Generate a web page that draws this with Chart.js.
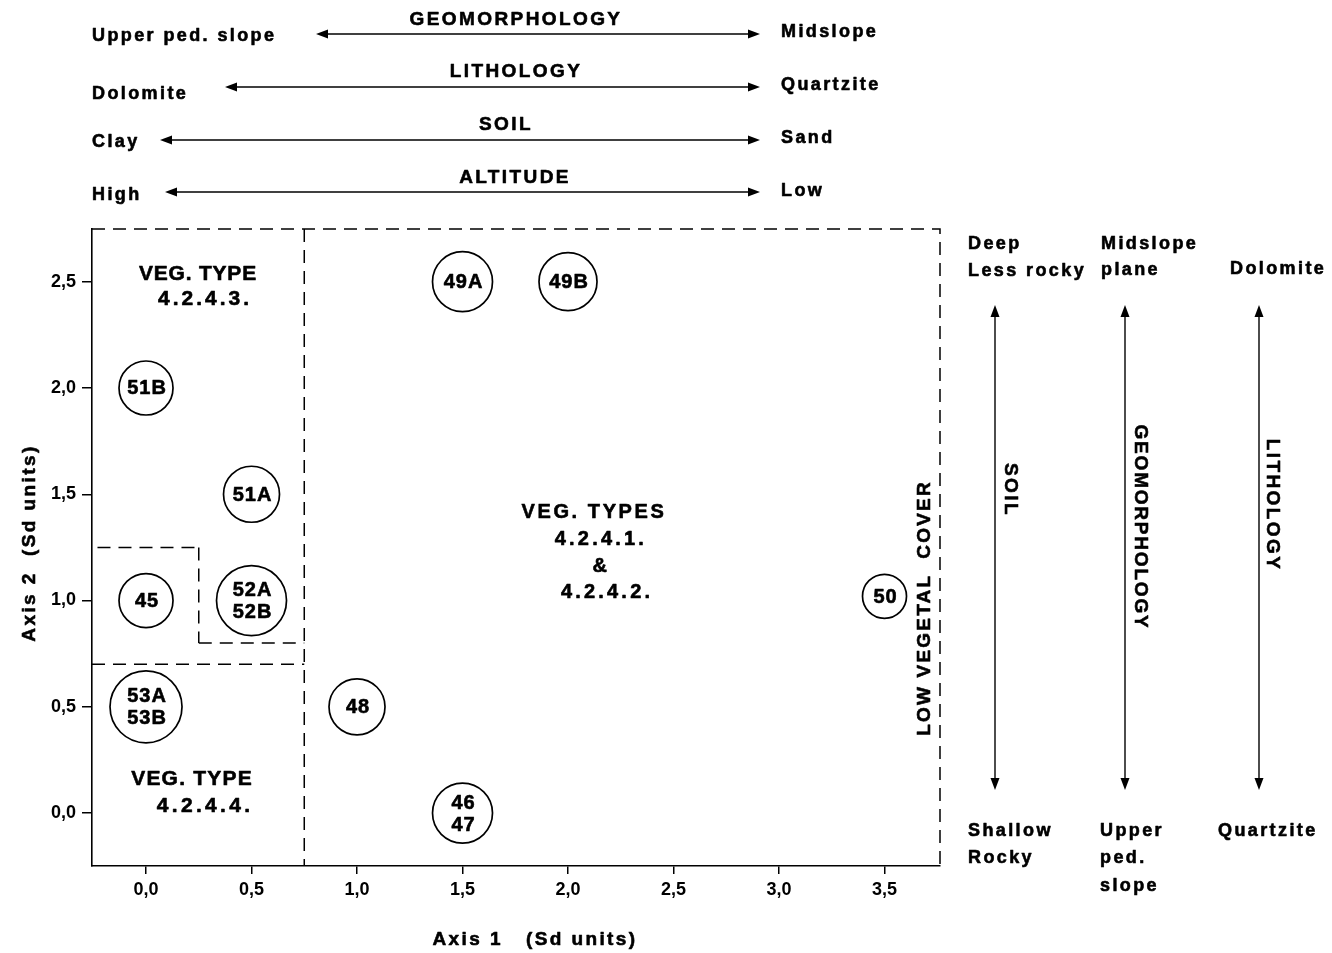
<!DOCTYPE html>
<html><head><meta charset="utf-8">
<script src="https://cdn.jsdelivr.net/npm/chart.js@4.4.0/dist/chart.umd.min.js"></script>
<style>html,body{margin:0;padding:0;background:#fff;}#wrap{width:1332px;height:953px;}</style>
</head><body><div id="wrap"><canvas id="c" width="1332" height="953"></canvas></div>
<script>
// ---- data ----
const sampleLabels = ['51B', '51A', '45', '52A\n52B', '53A\n53B', '48', '46\n47', '49A', '49B', '50'];
const axis1Scores  = [0.0, 0.5, 0.0, 0.5, 0.0, 1.0, 1.5, 1.5, 2.0, 3.5];
const axis2Scores  = [2.0, 1.5, 1.0, 1.0, 0.5, 0.5, 0.0, 2.5, 2.5, 1.02];
const xTickValues = [0, 0.5, 1, 1.5, 2, 2.5, 3, 3.5];
const xTickLabels = ['0,0', '0,5', '1,0', '1,5', '2,0', '2,5', '3,0', '3,5'];
const yTickValues = [0, 0.5, 1, 1.5, 2, 2.5];
const yTickLabels = ['0,0', '0,5', '1,0', '1,5', '2,0', '2,5'];
const xRange = [-0.256, 3.763];
const yRange = [-0.249, 2.748];
// group boundaries (axis units)
const boundaryA1 = [[0.75, 0.75], [-0.256, 0.75], [-0.23, 0.25], [0.25, 0.25], [0.25, 0.75]];
const boundaryA2 = [[2.748, -0.249], [0.70, 0.70], [1.25, 1.25], [1.25, 0.80], [0.80, 0.80]];

// ---- styles ----
const circleRadii = [27, 28, 27, 35, 36, 28, 30, 30, 29, 22];
const FONT = '"Liberation Sans", Arial, Helvetica, sans-serif';
const F = sz => 'bold ' + sz + 'px ' + FONT;

function txt(ctx, s, x, y, opt) {
  opt = opt || {};
  ctx.save();
  ctx.font = opt.font || F(18);
  ctx.letterSpacing = (opt.ls !== undefined ? opt.ls : 2.4) + 'px';
  ctx.fillStyle = '#000';
  ctx.strokeStyle = '#000';
  ctx.lineWidth = 0.6;
  ctx.lineJoin = 'round';
  ctx.textAlign = opt.align || 'left';
  ctx.textBaseline = 'middle';
  ctx.translate(x, y);
  if (opt.rot) ctx.rotate(opt.rot);
  ctx.fillText(s, 0, 0);
  ctx.strokeText(s, 0, 0);
  ctx.restore();
}
function hArrow(ctx, x1, x2, y) {
  ctx.save();
  ctx.strokeStyle = '#000'; ctx.fillStyle = '#000'; ctx.lineWidth = 1.4;
  ctx.beginPath(); ctx.moveTo(x1 + 6, y); ctx.lineTo(x2 - 6, y); ctx.stroke();
  ctx.beginPath(); ctx.moveTo(x1, y); ctx.lineTo(x1 + 12, y - 4.5); ctx.lineTo(x1 + 12, y + 4.5); ctx.closePath(); ctx.fill();
  ctx.beginPath(); ctx.moveTo(x2, y); ctx.lineTo(x2 - 12, y - 4.5); ctx.lineTo(x2 - 12, y + 4.5); ctx.closePath(); ctx.fill();
  ctx.restore();
}
function vArrow(ctx, x, y1, y2) {
  ctx.save();
  ctx.strokeStyle = '#000'; ctx.fillStyle = '#000'; ctx.lineWidth = 1.4;
  ctx.beginPath(); ctx.moveTo(x, y1 + 6); ctx.lineTo(x, y2 - 6); ctx.stroke();
  ctx.beginPath(); ctx.moveTo(x, y1); ctx.lineTo(x - 4.5, y1 + 12); ctx.lineTo(x + 4.5, y1 + 12); ctx.closePath(); ctx.fill();
  ctx.beginPath(); ctx.moveTo(x, y2); ctx.lineTo(x - 4.5, y2 - 12); ctx.lineTo(x + 4.5, y2 - 12); ctx.closePath(); ctx.fill();
  ctx.restore();
}

const boundaryDatasets = boundaryA1.map((xs, i) => ({
  type: 'scatter',
  data: [{x: xs[0], y: boundaryA2[i][0]}, {x: xs[1], y: boundaryA2[i][1]}],
  showLine: true, pointRadius: 0, borderColor: '#000', borderWidth: 1.5,
  borderDash: [13, 8], fill: false
}));

const annotate = {
  id: 'annotate',
  beforeDatasetsDraw(chart) {
    const {ctx, chartArea: a} = chart;
    ctx.save();
    ctx.strokeStyle = '#000'; ctx.lineWidth = 1.5; ctx.setLineDash([13, 8]);
    ctx.beginPath(); ctx.moveTo(a.left, a.top); ctx.lineTo(a.right, a.top); ctx.lineTo(a.right, a.bottom); ctx.stroke();
    ctx.restore();
  },
  afterDatasetsDraw(chart) {
    const ctx = chart.ctx;
    const meta = chart.getDatasetMeta(0);
    meta.data.forEach((el, i) => {
      const lines = sampleLabels[i].split('\n');
      const lh = 22;
      lines.forEach((ln, j) => {
        txt(ctx, ln, el.x + 1, el.y + (j - (lines.length - 1) / 2) * lh + 1, {align: 'center', ls: 1, font: F(20)});
      });
    });
  },
  afterDraw(chart) {
    const ctx = chart.ctx;
    const xs = chart.scales.x, ys = chart.scales.y;
    const P = (x, y) => [xs.getPixelForValue(x), ys.getPixelForValue(y)];
    const CAP = {align: 'center', font: F(19)};
    // header gradients
    txt(ctx, 'GEOMORPHOLOGY', 516, 20, CAP);
    txt(ctx, 'Upper ped. slope', 92, 36);
    hArrow(ctx, 316, 760, 34);
    txt(ctx, 'Midslope', 781, 32);
    txt(ctx, 'LITHOLOGY', 516, 72, CAP);
    txt(ctx, 'Dolomite', 92, 94);
    hArrow(ctx, 225, 760, 87);
    txt(ctx, 'Quartzite', 781, 85);
    txt(ctx, 'SOIL', 506, 125, CAP);
    txt(ctx, 'Clay', 92, 142);
    hArrow(ctx, 160, 760, 140);
    txt(ctx, 'Sand', 781, 138);
    txt(ctx, 'ALTITUDE', 515, 178, CAP);
    txt(ctx, 'High', 92, 195);
    hArrow(ctx, 165, 760, 192);
    txt(ctx, 'Low', 781, 191);
    // right-hand gradients
    txt(ctx, 'Deep', 968, 244);
    txt(ctx, 'Less rocky', 968, 271);
    txt(ctx, 'Midslope', 1101, 244);
    txt(ctx, 'plane', 1101, 270);
    txt(ctx, 'Dolomite', 1230, 269);
    vArrow(ctx, 995, 305, 790);
    vArrow(ctx, 1125, 305, 790);
    vArrow(ctx, 1259, 305, 790);
    txt(ctx, 'SOIL', 1010, 490, {align: 'center', font: F(19), rot: Math.PI / 2});
    txt(ctx, 'GEOMORPHOLOGY', 1140, 527, {align: 'center', font: F(19), ls: 1.8, rot: Math.PI / 2});
    txt(ctx, 'LITHOLOGY', 1272, 505, {align: 'center', font: F(19), rot: Math.PI / 2});
    txt(ctx, 'Shallow', 968, 831);
    txt(ctx, 'Rocky', 968, 858);
    txt(ctx, 'Upper', 1100, 831);
    txt(ctx, 'ped.', 1100, 858);
    txt(ctx, 'slope', 1100, 886);
    txt(ctx, 'Quartzite', 1218, 831);
    // group labels inside plot (axis units)
    let p;
    p = P(0.246, 2.536); txt(ctx, 'VEG. TYPE', p[0], p[1], {align: 'center', font: F(21), ls: 0.8});
    p = P(0.28, 2.419); txt(ctx, '4.2.4.3.', p[0], p[1], {align: 'center', font: F(21), ls: 3});
    p = P(2.123, 1.416); txt(ctx, 'VEG. TYPES', p[0], p[1], {align: 'center', font: F(20), ls: 2.6});
    p = P(2.156, 1.289); txt(ctx, '4.2.4.1.', p[0], p[1], {align: 'center', font: F(20), ls: 3.2});
    p = P(2.156, 1.162); txt(ctx, '&', p[0], p[1], {align: 'center', font: F(20)});
    p = P(2.185, 1.04); txt(ctx, '4.2.4.2.', p[0], p[1], {align: 'center', font: F(20), ls: 3.2});
    p = P(0.218, 0.16); txt(ctx, 'VEG. TYPE', p[0], p[1], {align: 'center', font: F(21), ls: 1.2});
    p = P(0.28, 0.033); txt(ctx, '4.2.4.4.', p[0], p[1], {align: 'center', font: F(21), ls: 3.3});
    p = P(3.692, 0.965); txt(ctx, 'LOW VEGETAL  COVER', p[0], p[1], {align: 'center', font: F(19), ls: 2.2, rot: -Math.PI / 2});
    // axis titles
    txt(ctx, 'Axis 2  (Sd units)', 30, 543, {align: 'center', font: F(19), rot: -Math.PI / 2});
    txt(ctx, 'Axis 1   (Sd units)', 535, 940, {align: 'center', font: F(19)});
  }
};

const tickFont = {family: FONT, size: 18, weight: 'bold'};
new Chart(document.getElementById('c'), {
  type: 'scatter',
  data: {
    datasets: [{
      data: axis1Scores.map((v, i) => ({x: v, y: axis2Scores[i]})),
      pointRadius: circleRadii,
      pointHoverRadius: circleRadii,
      pointBackgroundColor: '#fff',
      pointBorderColor: '#000',
      pointBorderWidth: 1.7,
      clip: false
    }].concat(boundaryDatasets)
  },
  options: {
    responsive: false, animation: false, events: [],
    layout: {padding: {top: 229, right: 392, bottom: 0, left: 0}},
    plugins: {legend: {display: false}, tooltip: {enabled: false}},
    scales: {
      x: {
        type: 'linear', min: xRange[0], max: xRange[1],
        afterBuildTicks: s => { s.ticks = xTickValues.map(v => ({value: v})); },
        afterFit: s => { s.height = 87; },
        ticks: {callback: v => xTickLabels[xTickValues.indexOf(v)], font: tickFont, color: '#000', padding: 5, maxRotation: 0, autoSkip: false},
        grid: {display: true, drawOnChartArea: false, drawTicks: true, tickLength: 8, color: '#000', lineWidth: 1.5},
        border: {display: true, color: '#000', width: 1.6}
      },
      y: {
        type: 'linear', min: yRange[0], max: yRange[1],
        afterBuildTicks: s => { s.ticks = yTickValues.map(v => ({value: v})); },
        afterFit: s => { s.width = 92; },
        ticks: {callback: v => yTickLabels[yTickValues.indexOf(v)], font: tickFont, color: '#000', padding: 6, autoSkip: false},
        grid: {display: true, drawOnChartArea: false, drawTicks: true, tickLength: 10, color: '#000', lineWidth: 1.5},
        border: {display: true, color: '#000', width: 1.6}
      }
    }
  },
  plugins: [annotate]
});
</script></body></html>
